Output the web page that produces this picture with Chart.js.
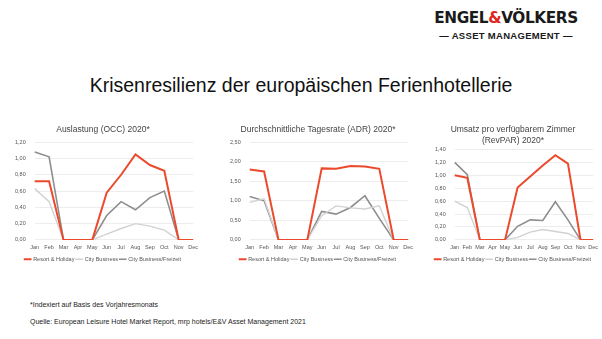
<!DOCTYPE html>
<html lang="de">
<head>
<meta charset="UTF-8">
<title>Krisenresilienz der europäischen Ferienhotellerie</title>
<script src="https://cdn.jsdelivr.net/npm/chart.js@4.4.1/dist/chart.umd.min.js"></script>
<style>
  body { margin: 0; width: 602px; height: 339px; background: #fff; font-family: "Liberation Sans", Arial, sans-serif; position: relative; overflow: hidden; }
  .logo { position: absolute; left: 434px; top: 9px; width: 144px; text-align: center; color: #1a1a1a; }
  .logo .brand { font-family: "DejaVu Sans", sans-serif; font-weight: bold; font-size: 15.3px; letter-spacing: -0.4px; line-height: 18px; }
  .logo .brand span { color: #e0261b; }
  .logo .sub { font-weight: bold; font-size: 9.5px; letter-spacing: 0.3px; margin-top: 3px; }
  h1 { position: absolute; left: 0; width: 602px; top: 74px; margin: 0; text-align: center; font-weight: normal; font-size: 19.5px; color: #111; }
  .box { position: absolute; top: 120px; height: 152px; }
  .note { position: absolute; left: 30px; font-size: 7px; color: #222; }
</style>
</head>
<body>
  <div class="logo">
    <div class="brand">ENGEL<span>&amp;</span>VÖLKERS</div>
    <div class="sub">— ASSET MANAGEMENT —</div>
  </div>
  <h1>Krisenresilienz der europäischen Ferienhotellerie</h1>

  <div class="box" style="left:4px;width:198px"><canvas id="occ"></canvas></div>
  <div class="box" style="left:219px;width:198px"><canvas id="adr"></canvas></div>
  <div class="box" style="left:424px;width:178px"><canvas id="revpar"></canvas></div>

  <div class="note" style="top:301px">*Indexiert auf Basis des Vorjahresmonats</div>
  <div class="note" style="top:318px">Quelle: European Leisure Hotel Market Report, mrp hotels/E&amp;V Asset Management 2021</div>

<script>
// Monate und Reihen (Index ggü. Vorjahresmonat)
const months = ['Jan', 'Feb', 'Mar', 'Apr', 'May', 'Jun', 'Jul', 'Aug', 'Sep', 'Oct', 'Nov', 'Dec'];
const seriesNames = ['Resort & Holiday', 'City Business', 'City Business/Freizeit'];

const occResort   = [0.72, 0.72, 0, 0, 0, 0.58, 0.80, 1.05, 0.92, 0.85, 0, 0];
const occCity     = [0.63, 0.47, 0, 0, 0, 0.07, 0.14, 0.20, 0.17, 0.12, 0, 0];
const occFreizeit = [1.08, 1.02, 0, 0, 0, 0.30, 0.47, 0.37, 0.52, 0.60, 0, 0];

const adrResort   = [1.80, 1.75, 0, 0, 0, 1.83, 1.82, 1.89, 1.88, 1.82, 0, 0];
const adrCity     = [0.96, 1.05, 0, 0, 0, 0.62, 0.87, 0.82, 0.79, 0.87, 0, 0];
const adrFreizeit = [1.11, 1.00, 0, 0, 0, 0.73, 0.66, 0.83, 1.13, 0.55, 0, 0];

const revResort   = [1.00, 0.96, 0, 0, 0, 0.81, 0.98, 1.15, 1.31, 1.18, 0, 0];
const revCity     = [0.60, 0.50, 0, 0, 0, 0.04, 0.12, 0.16, 0.13, 0.10, 0, 0];
const revFreizeit = [1.20, 1.01, 0, 0, 0, 0.21, 0.31, 0.30, 0.59, 0.31, 0, 0];

const colors = ['#ec4a2c', '#d2d2d2', '#8e8e8e'];
const widths = [2, 1.4, 1.6];

function makeChart(id, title, series, max, step, titleGap) {
  new Chart(document.getElementById(id), {
    type: 'line',
    data: {
      labels: months,
      datasets: series.map((values, i) => ({
        label: seriesNames[i],
        data: values,
        borderColor: colors[i],
        backgroundColor: colors[i],
        borderWidth: widths[i],
        pointRadius: 0,
        tension: 0,
        order: i
      }))
    },
    options: {
      responsive: true,
      maintainAspectRatio: false,
      animation: false,
      layout: { padding: { left: 2, right: 2, top: 0, bottom: 0 } },
      plugins: {
        title: {
          display: true,
          text: title,
          color: '#444',
          font: { size: 8.5, family: 'Liberation Sans', weight: 'normal' },
          padding: { top: 5, bottom: titleGap }
        },
        legend: {
          position: 'bottom',
          labels: {
            usePointStyle: true,
            pointStyle: 'line',
            boxWidth: 12,
            padding: 2,
            color: '#555',
            font: { size: 5.5, family: 'Liberation Sans' }
          }
        },
        tooltip: { enabled: false }
      },
      scales: {
        x: {
          grid: { display: false, drawTicks: false },
          border: { display: false },
          ticks: { color: '#555', font: { size: 5.5 }, maxRotation: 0, autoSkip: false, padding: 4 }
        },
        y: {
          min: 0,
          max: max,
          grid: { color: '#e8e8e8', lineWidth: 0.8, drawTicks: false },
          border: { display: false },
          ticks: {
            stepSize: step,
            color: '#555',
            font: { size: 5.5 },
            padding: 9,
            callback: v => v.toFixed(2).replace('.', ',')
          }
        }
      }
    }
  });
}

makeChart('occ', 'Auslastung (OCC) 2020*', [occResort, occCity, occFreizeit], 1.2, 0.2, 7);
makeChart('adr', 'Durchschnittliche Tagesrate (ADR) 2020*', [adrResort, adrCity, adrFreizeit], 2.5, 0.5, 7);
makeChart('revpar', ['Umsatz pro verfügbarem Zimmer', '(RevPAR) 2020*'], [revResort, revCity, revFreizeit], 1.4, 0.2, 4);
</script>
</body>
</html>
